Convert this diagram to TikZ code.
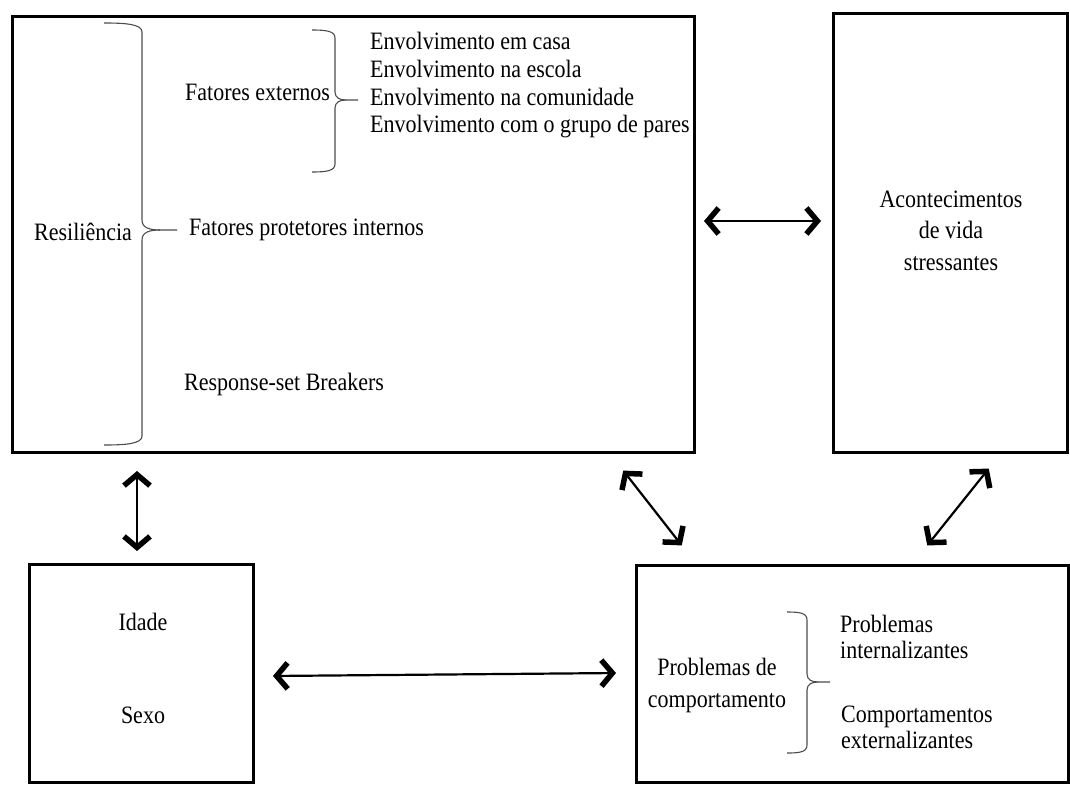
\documentclass[tikz,border=0pt]{standalone}
\usepackage{fontspec}
\setmainfont{Liberation Serif}[FakeStretch=0.88]
\usetikzlibrary{arrows.meta}
\tikzset{
  box/.style={draw=black, line width=3pt},
  txt/.style={inner sep=0pt, font=\fontsize{25}{28}\selectfont},
  brace/.style={draw=black!70, line width=1.1pt},
  barb/.tip={Straight Barb[length=11pt,width=26pt,line width=5.5pt]},
  biarrow/.style={line width=2.2pt, barb-barb, shorten <=2pt, shorten >=2pt},
}
\begin{document}
\begin{tikzpicture}[x=1pt,y=-1pt]
\useasboundingbox (0,0) rectangle (1070,784);
% boxes
\draw[box] (12,17) rectangle (694,452);
\draw[box] (833,14) rectangle (1067,452);
\draw[box] (29,564) rectangle (253,782);
\draw[box] (636,565) rectangle (1068,782);

% Resiliencia block
\node[txt, anchor=base west] (resil) at (34,240) {Resiliência};
\draw[brace] (104,23) .. controls (125,23) and (142,24) .. (142,32) -- (142,220) .. controls (142,228) and (150,230) .. (160,230) -- (177,230);
\draw[brace] (160,230) .. controls (150,230) and (142,232) .. (142,240) -- (142,436) .. controls (142,444) and (125,445) .. (104,445);
\node[txt, anchor=base west] (fext) at (185,100) {Fatores externos};
\draw[brace] (312,30) .. controls (326,30) and (335,31) .. (335,38) -- (335,92) .. controls (335,98) and (340,100) .. (346,100) -- (358,100);
\draw[brace] (346,100) .. controls (340,100) and (335,102) .. (335,108) -- (335,164) .. controls (335,171) and (326,172) .. (312,172);
\node[txt, anchor=base west] (e1) at (370,50) {Envolvimento em casa};
\node[txt, anchor=base west] (e2) at (370,77.5) {Envolvimento na escola};
\node[txt, anchor=base west] (e3) at (370,105) {Envolvimento na comunidade};
\node[txt, anchor=base west] (e4) at (370,132.5) {Envolvimento com o grupo de pares};
\node[txt, anchor=base west] (fint) at (189,235) {Fatores protetores internos};
\node[txt, anchor=base west] (rsb) at (184,390) {Response-set Breakers};

% Acontecimentos
\node[txt, anchor=base] (ac1) at (951,207) {Acontecimentos};
\node[txt, anchor=base] (ac2) at (951,238) {de vida};
\node[txt, anchor=base] (ac3) at (951,270) {stressantes};

% Idade / Sexo
\node[txt, anchor=base] (idade) at (143,630) {Idade};
\node[txt, anchor=base] (sexo) at (143,723) {Sexo};

% Problemas de comportamento
\node[txt, anchor=base] (pc1) at (717,675) {Problemas de};
\node[txt, anchor=base] (pc2) at (717,707) {comportamento};
\draw[brace] (787,612) .. controls (800,612) and (807,613) .. (807,620) -- (807,674) .. controls (807,680) and (812,682) .. (818,682) -- (830,682);
\draw[brace] (818,682) .. controls (812,682) and (807,684) .. (807,690) -- (807,745) .. controls (807,752) and (800,753) .. (787,753);
\node[txt, anchor=base west] (pi1) at (840,632) {Problemas};
\node[txt, anchor=base west] (pi2) at (840,658) {internalizantes};
\node[txt, anchor=base west] (ce1) at (841,722) {Comportamentos};
\node[txt, anchor=base west] (ce2) at (841,748) {externalizantes};

% arrow end points
\coordinate (a1s) at (702,221);
\coordinate (a1e) at (823,221);
\coordinate (a2s) at (137,469);
\coordinate (a2e) at (137,553);
\coordinate (a3s) at (622,469);
\coordinate (a3e) at (683,547);
\coordinate (a4s) at (990,467);
\coordinate (a4e) at (926,547);
\coordinate (a5s) at (271,676);
\coordinate (a5e) at (618,673);
\draw[biarrow] (a1s) -- (a1e);
\draw[biarrow] (a2s) -- (a2e);
\draw[biarrow] (a3s) -- (a3e);
\draw[biarrow] (a4s) -- (a4e);
\draw[biarrow] (a5s) -- (a5e);
\end{tikzpicture}
\end{document}
